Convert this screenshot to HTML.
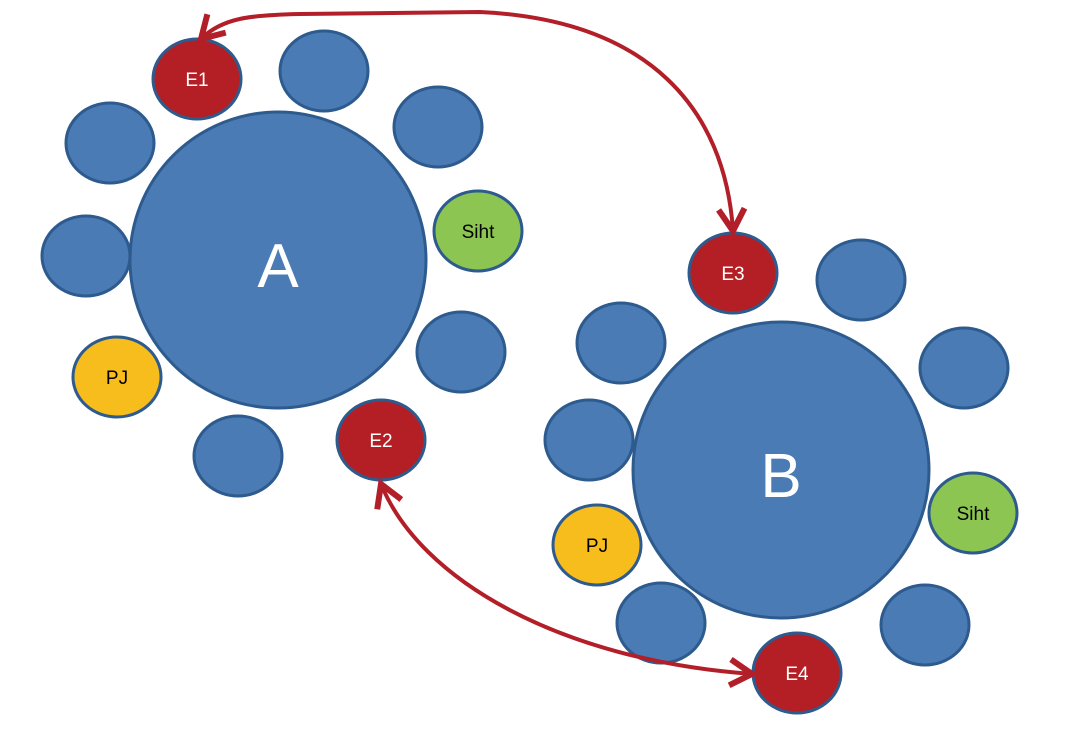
<!DOCTYPE html>
<html><head><meta charset="utf-8"><style>html,body{margin:0;padding:0;background:#fff}svg{display:block}</style></head>
<body>
<svg width="1065" height="734" viewBox="0 0 1065 734" xmlns="http://www.w3.org/2000/svg" font-family="Liberation Sans, sans-serif">
<defs>
<marker id="ah" markerWidth="50" markerHeight="50" refX="0" refY="0" viewBox="-35 -25 50 50" orient="auto-start-reverse" markerUnits="userSpaceOnUse">
<path d="M-22,-13 L0,0 L-22,13" fill="none" stroke="#b31f29" stroke-width="6" stroke-linejoin="miter"/>
</marker>
</defs>
<g stroke="#2e5b8e" stroke-width="3">
<circle cx="278" cy="260" r="148" fill="#4a7bb5"/>
<circle cx="781" cy="470" r="148" fill="#4a7bb5"/>
<g fill="#4a7bb5">
<ellipse cx="324" cy="71" rx="44" ry="40"/>
<ellipse cx="438" cy="127" rx="44" ry="40"/>
<ellipse cx="110" cy="143" rx="44" ry="40"/>
<ellipse cx="86" cy="256" rx="44" ry="40"/>
<ellipse cx="461" cy="352" rx="44" ry="40"/>
<ellipse cx="238" cy="456" rx="44" ry="40"/>
<ellipse cx="861" cy="280" rx="44" ry="40"/>
<ellipse cx="621" cy="343" rx="44" ry="40"/>
<ellipse cx="964" cy="368" rx="44" ry="40"/>
<ellipse cx="589" cy="440" rx="44" ry="40"/>
<ellipse cx="661" cy="623" rx="44" ry="40"/>
<ellipse cx="925" cy="625" rx="44" ry="40"/>
</g>
<g fill="#b31f24">
<ellipse cx="197" cy="79" rx="44" ry="40"/>
<ellipse cx="381" cy="440" rx="44" ry="40"/>
<ellipse cx="733" cy="273" rx="44" ry="40"/>
<ellipse cx="797" cy="673" rx="44" ry="40"/>
</g>
<g fill="#8cc552">
<ellipse cx="478" cy="231" rx="44" ry="40"/>
<ellipse cx="973" cy="513" rx="44" ry="40"/>
</g>
<g fill="#f6bd1c">
<ellipse cx="117" cy="377" rx="44" ry="40"/>
<ellipse cx="597" cy="545" rx="44" ry="40"/>
</g>
</g>
<g fill="none" stroke="#b31f29" stroke-width="4">
<path d="M201,39 C222,18 250,15 300,14 L480,12 C650,20 725,110 733,231" marker-start="url(#ah)" marker-end="url(#ah)"/>
<path d="M381,484 C420,580 560,660 752,674" marker-start="url(#ah)" marker-end="url(#ah)"/>
</g>
<g fill="#fff" text-anchor="middle">
<text x="278" y="287" font-size="62">A</text>
<text x="781" y="497" font-size="62">B</text>
<text x="197" y="86" font-size="19">E1</text>
<text x="381" y="447" font-size="19">E2</text>
<text x="733" y="280" font-size="19">E3</text>
<text x="797" y="680" font-size="19">E4</text>
</g>
<g fill="#000" text-anchor="middle" font-size="19">
<text x="478" y="238">Siht</text>
<text x="973" y="520">Siht</text>
<text x="117" y="384">PJ</text>
<text x="597" y="552">PJ</text>
</g>
</svg>
</body></html>
